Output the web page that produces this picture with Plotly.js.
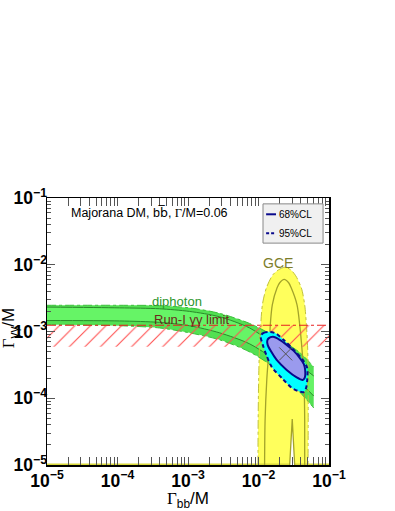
<!DOCTYPE html>
<html>
<head>
<meta charset="utf-8">
<script src="https://cdn.plot.ly/plotly-3.0.1.min.js"></script>
<style>
  html, body { margin: 0; padding: 0; background: #fff; }
  #chart { width: 395px; height: 511px; }
</style>
</head>
<body>
<div id="chart"></div>
<script>
// diphoton band, sampled at common Gamma_bb/M points
const bandX = [1e-5, 1.07e-4, 3.95e-4, 1.05e-3, 2.81e-3, 7.48e-3, 1.69e-2, 3.84e-2, 6.07e-2];
const band2Hi = [2.47e-3, 2.47e-3, 2.44e-3, 2.26e-3, 1.87e-3, 1.32e-3, 8.49e-4, 4.85e-4, 2.95e-4];
const band2Lo = [1.27e-3, 1.22e-3, 1.13e-3, 9.55e-4, 7.50e-4, 4.95e-4, 2.85e-4, 1.24e-4, 7.16e-5];
const band1Hi = [2.32e-3, 2.26e-3, 2.19e-3, 2.00e-3, 1.66e-3, 1.13e-3, 6.37e-4, 3.13e-4, 2.16e-4];
const band1Lo = [1.46e-3, 1.44e-3, 1.37e-3, 1.22e-3, 9.55e-4, 6.53e-4, 3.76e-4, 1.76e-4, 1.08e-4];

// Run-I gamma gamma limit (hatched below the line)
const run1X = [1e-5, 1e-1];
const run1Limit = 1.24e-3;
const run1HatchLow = 5.9e-4;

// GCE region: outer (dash-dot) and inner (solid) contours
const gceOuterX = [9.82e-3, 9.89e-3, 1.005e-2, 1.04e-2, 1.075e-2, 1.135e-2, 1.29e-2, 1.60e-2, 1.93e-2, 2.35e-2, 2.86e-2, 3.37e-2, 4.06e-2, 4.52e-2, 4.78e-2, 4.99e-2, 5.07e-2, 5.04e-2];
const gceOuterY = [1e-5, 4.73e-5, 1.88e-4, 7.50e-4, 1.26e-3, 2.51e-3, 4.47e-3, 7.08e-3, 8.41e-3, 9.16e-3, 8.41e-3, 6.84e-3, 4.47e-3, 2.51e-3, 1.26e-3, 5.31e-4, 9.44e-5, 1e-5];
const gceInnerX = [1.22e-2, 1.24e-2, 1.31e-2, 1.44e-2, 1.47e-2, 1.57e-2, 1.83e-2, 2.00e-2, 2.31e-2, 2.68e-2, 2.92e-2, 3.52e-2, 3.84e-2, 4.09e-2, 4.42e-2, 4.52e-2, 4.52e-2];
const gceInnerY = [1e-5, 4.73e-5, 1.88e-4, 7.50e-4, 1.26e-3, 2.51e-3, 4.47e-3, 5.37e-3, 6.05e-3, 5.37e-3, 4.47e-3, 2.51e-3, 1.26e-3, 6.31e-4, 1.88e-4, 4.73e-5, 1e-5];
const gceNotchX = [2.77e-2, 3.01e-2, 3.26e-2];
const gceNotchY = [1e-5, 4.90e-5, 1e-5];

// fit contours
const cl95X = [1.075e-2, 1.18e-2, 1.44e-2, 1.75e-2, 2.35e-2, 3.26e-2, 4.24e-2, 4.91e-2, 4.91e-2, 4.74e-2, 4.38e-2, 3.60e-2, 2.96e-2, 2.20e-2, 1.54e-2, 1.29e-2, 1.15e-2, 1.075e-2];
const cl95Y = [8.61e-4, 9.55e-4, 9.88e-4, 9.38e-4, 7.24e-4, 5.13e-4, 3.76e-4, 2.85e-4, 1.88e-4, 1.43e-4, 1.24e-4, 1.29e-4, 1.43e-4, 1.95e-4, 2.95e-4, 4.47e-4, 6.31e-4, 8.61e-4];
const cl68X = [1.33e-2, 1.39e-2, 1.61e-2, 2.00e-2, 2.51e-2, 3.16e-2, 3.84e-2, 4.38e-2, 4.59e-2, 4.52e-2, 4.24e-2, 3.48e-2, 2.51e-2, 1.81e-2, 1.49e-2, 1.35e-2, 1.33e-2];
const cl68Y = [7.24e-4, 7.89e-4, 8.32e-4, 7.50e-4, 6.31e-4, 5.13e-4, 4.03e-4, 3.27e-4, 2.66e-4, 2.02e-4, 1.88e-4, 2.06e-4, 2.66e-4, 3.76e-4, 5.13e-4, 6.31e-4, 7.24e-4];
const bestFit = [2.43e-2, 4.62e-4];

const navy = '#0a0a8c';
const olive = '#a3a32a';

function line(x, y, color, width, dash, shape) {
  return {x: x, y: y, type: 'scatter', mode: 'lines', hoverinfo: 'skip', showlegend: false,
          line: {color: color, width: width, dash: dash || 'solid', shape: shape || 'spline', smoothing: 0.8}};
}

var traces = [];

// GCE fill
var gceFill = line(gceOuterX, gceOuterY, 'rgba(0,0,0,0)', 0);
gceFill.fill = 'toself';
gceFill.fillcolor = '#ffff5c';
traces.push(gceFill);

// yellow along the bottom edge
traces.push(line(run1X, [1e-5, 1e-5], '#d8d83a', 3, 'solid', 'linear'));

// diphoton band, outer
traces.push(line(bandX, band2Lo, '#3cbf3c', 1, 'dashdot'));
var b2 = line(bandX, band2Hi, '#3cbf3c', 1, 'dashdot');
b2.fill = 'tonexty';
b2.fillcolor = '#52e052';
traces.push(b2);
// inner
traces.push(line(bandX, band1Lo, '#2a8a2a', 1));
var b1 = line(bandX, band1Hi, '#2a8a2a', 1);
b1.fill = 'tonexty';
b1.fillcolor = '#66f466';
traces.push(b1);

// GCE contour lines
traces.push(line(gceOuterX, gceOuterY, '#c2c23a', 1, 'dashdot'));
traces.push(line(gceInnerX, gceInnerY, olive, 1.3));
var notch = line(gceNotchX, gceNotchY, olive, 1.3, 'solid', 'linear');
notch.fill = 'toself';
notch.fillcolor = '#ffffff';
traces.push(notch);

// Run-I hatch + line
traces.push({
  x: [run1X[0], run1X[1], run1X[1], run1X[0]],
  y: [run1Limit, run1Limit, run1HatchLow, run1HatchLow],
  type: 'scatter', mode: 'lines', hoverinfo: 'skip', showlegend: false,
  line: {width: 0}, fill: 'toself', fillcolor: 'rgba(0,0,0,0)',
  fillpattern: {shape: '/', fgcolor: '#ff5050', bgcolor: 'rgba(0,0,0,0)', size: 11, solidity: 0.1}
});
traces.push(line(run1X, [run1Limit, run1Limit], '#e82020', 1, 'dashdot', 'linear'));

// 95% and 68% CL
var c95 = line(cl95X, cl95Y, navy, 2, '4px,3px');
c95.fill = 'toself';
c95.fillcolor = '#00ffff';
traces.push(c95);
var c68 = line(cl68X, cl68Y, navy, 2);
c68.fill = 'toself';
c68.fillcolor = '#9a9aee';
traces.push(c68);

traces.push({x: [bestFit[0]], y: [bestFit[1]], type: 'scatter', mode: 'markers', hoverinfo: 'skip', showlegend: false,
  marker: {symbol: 'x-thin', size: 13, line: {color: '#555', width: 1}}});
// same point, invisible, so the label-only y axis gets drawn
traces.push({x: [bestFit[0]], y: [bestFit[1]], yaxis: 'y2', type: 'scatter', mode: 'markers', hoverinfo: 'skip',
  showlegend: false, marker: {opacity: 0}});

const tickFont = {family: 'Liberation Sans, Arial, sans-serif', size: 14, weight: 'bold', color: '#000'};
const titleFont = {family: 'Liberation Sans, Arial, sans-serif', size: 17, color: '#000'};
const G = '<span style="font-family:Liberation Serif, Times New Roman, serif">Γ</span>';

function axis() {
  return {
    type: 'log', range: [-5, -1], dtick: 1, exponentformat: 'power',
    showline: true, linecolor: '#000', linewidth: 1.5, mirror: 'allticks',
    ticks: 'inside', ticklen: 8, tickwidth: 1, tickcolor: '#555',
    minor: {ticks: 'inside', ticklen: 4, tickwidth: 1, tickcolor: '#555', dtick: 'D1'},
    showgrid: false, zeroline: false, automargin: false,
    tickfont: tickFont
  };
}

var xaxis = axis();
xaxis.title = {text: G + '<sub>bb</sub>/M', font: titleFont, standoff: 2};
var yaxis = axis();
yaxis.showticklabels = false;
// label-only axis: without ticks its labels sit right against the frame
var yaxis2 = {
  type: 'log', range: [-5, -1], dtick: 1, exponentformat: 'power',
  overlaying: 'y', anchor: 'free', position: 0, side: 'left',
  showline: false, ticks: '', showgrid: false, zeroline: false, automargin: false,
  tickfont: tickFont
};

var layout = {
  width: 395, height: 511,
  margin: {l: 47, r: 66, t: 198, b: 46},
  paper_bgcolor: '#fff', plot_bgcolor: '#fff',
  showlegend: false,
  xaxis: xaxis,
  yaxis: yaxis,
  yaxis2: yaxis2,
  shapes: [
    {type: 'rect', xref: 'paper', yref: 'paper', x0: 0.766, x1: 0.979, y0: 0.831, y1: 0.978,
     fillcolor: '#f0f0f0', line: {color: '#888', width: 1}},
    {type: 'line', xref: 'paper', yref: 'paper', x0: 0.777, x1: 0.812, y0: 0.939, y1: 0.939,
     line: {color: navy, width: 2}},
    {type: 'line', xref: 'paper', yref: 'paper', x0: 0.777, x1: 0.812, y0: 0.868, y1: 0.868,
     line: {color: navy, width: 2, dash: '3px,2px'}}
  ],
  annotations: [
    {xref: 'paper', yref: 'paper', x: -0.13, y: 0.513, xanchor: 'center', yanchor: 'middle', showarrow: false,
     textangle: -90, text: G + '<sub>γγ</sub>/M', font: titleFont},
    {xref: 'paper', yref: 'paper', x: 0.078, y: 0.944, xanchor: 'left', yanchor: 'middle', showarrow: false,
     text: 'Majorana DM, b<span style="font-family:DejaVu Sans">b\u0305</span>, ' + G + '/M=0.06',
     font: {family: 'Liberation Sans, Arial', size: 12.5, color: '#000'}},
    {xref: 'paper', yref: 'paper', x: 0.816, y: 0.939, xanchor: 'left', yanchor: 'middle', showarrow: false,
     text: '68%CL', font: {family: 'Liberation Sans, Arial', size: 10, color: '#000'}},
    {xref: 'paper', yref: 'paper', x: 0.816, y: 0.868, xanchor: 'left', yanchor: 'middle', showarrow: false,
     text: '95%CL', font: {family: 'Liberation Sans, Arial', size: 10, color: '#000'}},
    {xref: 'paper', yref: 'paper', x: 0.819, y: 0.757, xanchor: 'center', yanchor: 'middle', showarrow: false,
     text: 'GCE', font: {family: 'Liberation Sans, Arial', size: 14, color: '#7d7d2a'}},
    {xref: 'paper', yref: 'paper', x: 0.461, y: 0.612, xanchor: 'center', yanchor: 'middle', showarrow: false,
     text: 'diphoton', font: {family: 'Liberation Sans, Arial', size: 13, color: '#2c962c'}},
    {xref: 'paper', yref: 'paper', x: 0.372, y: 0.546, xanchor: 'left', yanchor: 'middle', showarrow: false,
     text: 'Run-I γγ limit', font: {family: 'Liberation Sans, Arial', size: 13, color: '#6b2a1c'}}
  ]
};

Plotly.newPlot('chart', traces, layout, {staticPlot: true, displayModeBar: false});
</script>
</body>
</html>
